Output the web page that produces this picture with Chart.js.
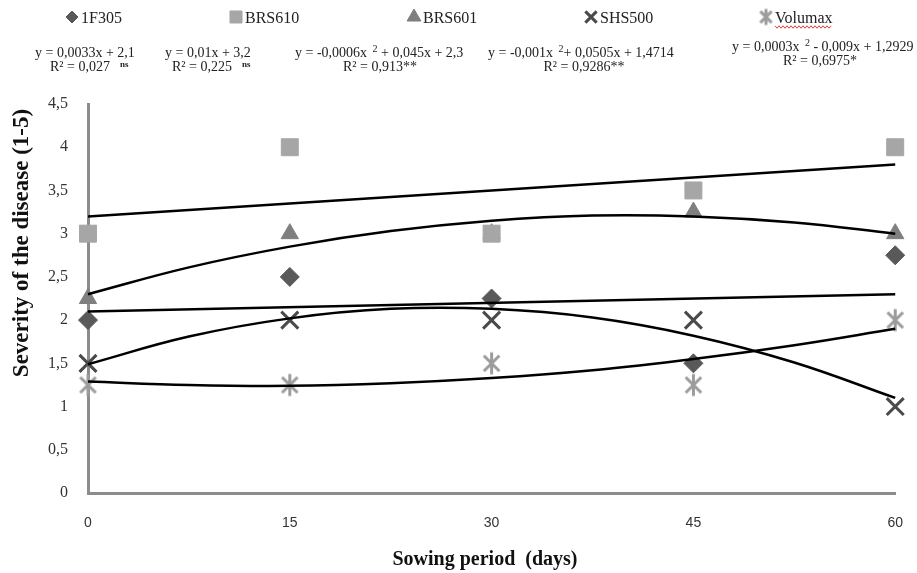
<!DOCTYPE html>
<html>
<head>
<meta charset="utf-8">
<script src="https://cdn.jsdelivr.net/npm/chart.js@4.4.0/dist/chart.umd.min.js"></script>
<style>
  html, body { margin: 0; padding: 0; background: #fff; }
  #wrap { width: 917px; height: 573px; }
</style>
</head>
<body>
<div id="wrap"><canvas id="chart" width="917" height="573"></canvas></div>
<script>
// sowing period (days) and the axis ticks
const days = [0, 15, 30, 45, 60];
const xTicks = [0, 15, 30, 45, 60];
const yTicks = [0, 0.5, 1, 1.5, 2, 2.5, 3, 3.5, 4, 4.5];

// observed severity for each cultivar
const cultivars = ['1F305', 'BRS610', 'BRS601', 'SHS500', 'Volumax'];
const sev1F305 = [2, 2.5, 2.25, 1.5, 2.75];
const sevBRS610 = [3, 4, 3, 3.5, 4];
const sevBRS601 = [2.25, 3, 3, 3.25, 3];
const sevSHS500 = [1.5, 2, 2, 2, 1];
const sevVolumax = [1.25, 1.25, 1.5, 1.25, 2];

// trend lines as drawn in the figure
const lineDays = [0, 60];
const trend1F305 = [2.1, 2.3];
const trendBRS610 = [3.2, 3.8];
const curveDays = [0, 7.5, 15, 22.5, 30, 37.5, 45, 52.5, 60];
const trendBRS601 = [2.3, 2.61, 2.85, 3.03, 3.15, 3.21, 3.2, 3.13, 3.0];
const trendSHS500 = [1.49, 1.81, 2.02, 2.13, 2.13, 2.03, 1.82, 1.51, 1.1];
const trendVolumax = [1.29, 1.25, 1.24, 1.27, 1.33, 1.42, 1.55, 1.71, 1.9];

// regression labels: [before superscript, superscript, after], R² text, significance
const eqTop = [
    ['y = 0,0033x + 2,1', '', ''],
    ['y = 0,01x + 3,2', '', ''],
    ['y = -0,0006x ', '2', ' + 0,045x + 2,3'],
    ['y = -0,001x ', '2', '+ 0,0505x + 1,4714'],
    ['y = 0,0003x ', '2', ' - 0,009x + 1,2929']
];
const eqR2 = ['R² = 0,027', 'R² = 0,225', 'R² = 0,913**', 'R² = 0,9286**', 'R² = 0,6975*'];
const eqSig = ['ns', 'ns', '', '', ''];

const colors = ['#595959', '#a6a6a6', '#7f7f7f', '#4a4a4a', '#9c9c9c'];

// excel-like star: an X with a vertical stroke through it
function starMark(r, lw, color) {
    const s = Math.ceil(2 * r + lw + 2);
    const c = document.createElement('canvas');
    c.width = s;
    c.height = s;
    const g = c.getContext('2d');
    const m = s / 2;
    const d = r * Math.SQRT1_2;
    g.strokeStyle = color;
    g.lineWidth = lw;
    g.beginPath();
    g.moveTo(m - d, m - d); g.lineTo(m + d, m + d);
    g.moveTo(m - d, m + d); g.lineTo(m + d, m - d);
    g.moveTo(m, m - r); g.lineTo(m, m + r);
    g.stroke();
    return c;
}

const styles = ['rectRot', 'rect', 'triangle', 'crossRot', starMark(11, 3, colors[4])];
const legendStyles = ['rectRot', 'rect', 'triangle', 'crossRot', starMark(8, 3, colors[4])];

function pts(xs, ys) {
    return xs.map((x, i) => ({ x: x, y: ys[i] }));
}

function markerSet(i, values, radius) {
    return {
        label: cultivars[i],
        data: pts(days, values),
        showLine: false,
        pointStyle: styles[i],
        pointRadius: radius,
        pointHoverRadius: radius,
        pointBackgroundColor: colors[i],
        pointBorderColor: colors[i],
        pointBorderWidth: i === 3 ? 3 : 1,
        clip: false,
        order: 1
    };
}

function trendSet(xs, ys, curved) {
    return {
        label: 'trend',
        data: pts(xs, ys),
        showLine: true,
        borderColor: '#000',
        borderWidth: 2.5,
        pointRadius: 0,
        tension: curved ? 0.4 : 0,
        fill: false,
        clip: false,
        order: 0
    };
}

// legend, regression equations and axis titles drawn at their places in the figure
const headerText = {
    id: 'headerText',
    afterDraw(chart) {
        const ctx = chart.ctx;
        ctx.save();

        // legend
        const legX = [72, 236, 414, 591, 766];
        const legSize = [6, 8.5, 8, 8, 7];
        ctx.font = '16px "Liberation Serif"';
        ctx.textBaseline = 'alphabetic';
        ctx.textAlign = 'left';
        cultivars.forEach((name, i) => {
            ctx.fillStyle = colors[i];
            ctx.strokeStyle = colors[i];
            ctx.lineWidth = i === 3 ? 3 : 1;
            Chart.helpers.drawPoint(ctx, { pointStyle: legendStyles[i], rotation: 0, radius: legSize[i], borderWidth: ctx.lineWidth }, legX[i], 17);
            ctx.fillStyle = '#222';
            ctx.fillText(name, legX[i] + 9, 23);
        });

        // spell-check squiggle under Volumax
        const vw = ctx.measureText('Volumax').width;
        ctx.strokeStyle = '#e04040';
        ctx.lineWidth = 1;
        ctx.beginPath();
        for (let x = 775, k = 0; x <= 775 + vw; x += 2, k++) {
            const y = 27 + (k % 2 ? 1.2 : -1.2);
            if (k === 0) ctx.moveTo(x, y); else ctx.lineTo(x, y);
        }
        ctx.stroke();

        // regression equations
        const eqX = [35, 165, 295, 488, 732];
        const eqY = [57, 57, 57, 57, 51];
        const r2X = [50, 172, 380, 584, 820];
        const r2Center = [false, false, true, true, true];
        ctx.fillStyle = '#222';
        eqTop.forEach((seg, i) => {
            let x = eqX[i];
            ctx.font = '14px "Liberation Serif"';
            ctx.textAlign = 'left';
            ctx.fillText(seg[0], x, eqY[i]);
            x += ctx.measureText(seg[0]).width;
            if (seg[1]) {
                ctx.font = '10px "Liberation Serif"';
                x += 2;
                ctx.fillText(seg[1], x, eqY[i] - 5);
                x += ctx.measureText(seg[1]).width;
                ctx.font = '14px "Liberation Serif"';
                ctx.fillText(seg[2], x, eqY[i]);
            }
            const ry = eqY[i] + 14;
            ctx.textAlign = r2Center[i] ? 'center' : 'left';
            ctx.fillText(eqR2[i], r2X[i], ry);
            if (eqSig[i]) {
                const w = ctx.measureText(eqR2[i]).width;
                ctx.font = 'bold 9px "Liberation Serif"';
                ctx.textAlign = 'left';
                ctx.fillText(eqSig[i], r2X[i] + w + 10, ry - 4);
            }
        });

        // axis titles
        ctx.fillStyle = '#111';
        ctx.font = 'bold 20px "Liberation Serif"';
        ctx.textAlign = 'center';
        ctx.textBaseline = 'middle';
        ctx.fillText('Sowing period  (days)', 485, 560);
        ctx.translate(22, 243);
        ctx.rotate(-Math.PI / 2);
        ctx.font = 'bold 23px "Liberation Serif"';
        ctx.fillText('Severity of the disease (1-5)', 0, 0);
        ctx.restore();
    }
};

const datasets = [
    trendSet(lineDays, trend1F305, false),
    trendSet(lineDays, trendBRS610, false),
    trendSet(curveDays, trendBRS601, true),
    trendSet(curveDays, trendSHS500, true),
    trendSet(curveDays, trendVolumax, true),
    markerSet(0, sev1F305, 9.5),
    markerSet(1, sevBRS610, 12),
    markerSet(2, sevBRS601, 10),
    markerSet(3, sevSHS500, 12),
    markerSet(4, sevVolumax, 8.5)
];

const ctx = document.getElementById('chart').getContext('2d');
new Chart(ctx, {
    type: 'scatter',
    data: { datasets: datasets },
    options: {
        responsive: false,
        animation: false,
        layout: { padding: { top: 104, right: 10, left: 0, bottom: 0 } },
        plugins: {
            legend: { display: false },
            tooltip: { enabled: false }
        },
        scales: {
            x: {
                type: 'linear',
                min: 0,
                max: 60,
                afterBuildTicks: scale => { scale.ticks = xTicks.map(v => ({ value: v })); },
                afterFit: scale => { scale.height = 80; },
                grid: { display: false },
                border: { display: true, color: '#8c8c8c', width: 3 },
                ticks: {
                    padding: 14,
                    color: '#333',
                    font: { family: 'Liberation Sans', size: 14 }
                }
            },
            y: {
                min: 0,
                max: 4.5,
                afterBuildTicks: scale => { scale.ticks = yTicks.map(v => ({ value: v })); },
                afterFit: scale => { scale.width = 88; },
                grid: { display: false },
                border: { display: true, color: '#8c8c8c', width: 3 },
                ticks: {
                    padding: 12,
                    color: '#333',
                    font: { family: 'Liberation Serif', size: 16 },
                    callback: v => String(v).replace('.', ',')
                }
            }
        }
    },
    plugins: [headerText]
});
</script>
</body>
</html>
